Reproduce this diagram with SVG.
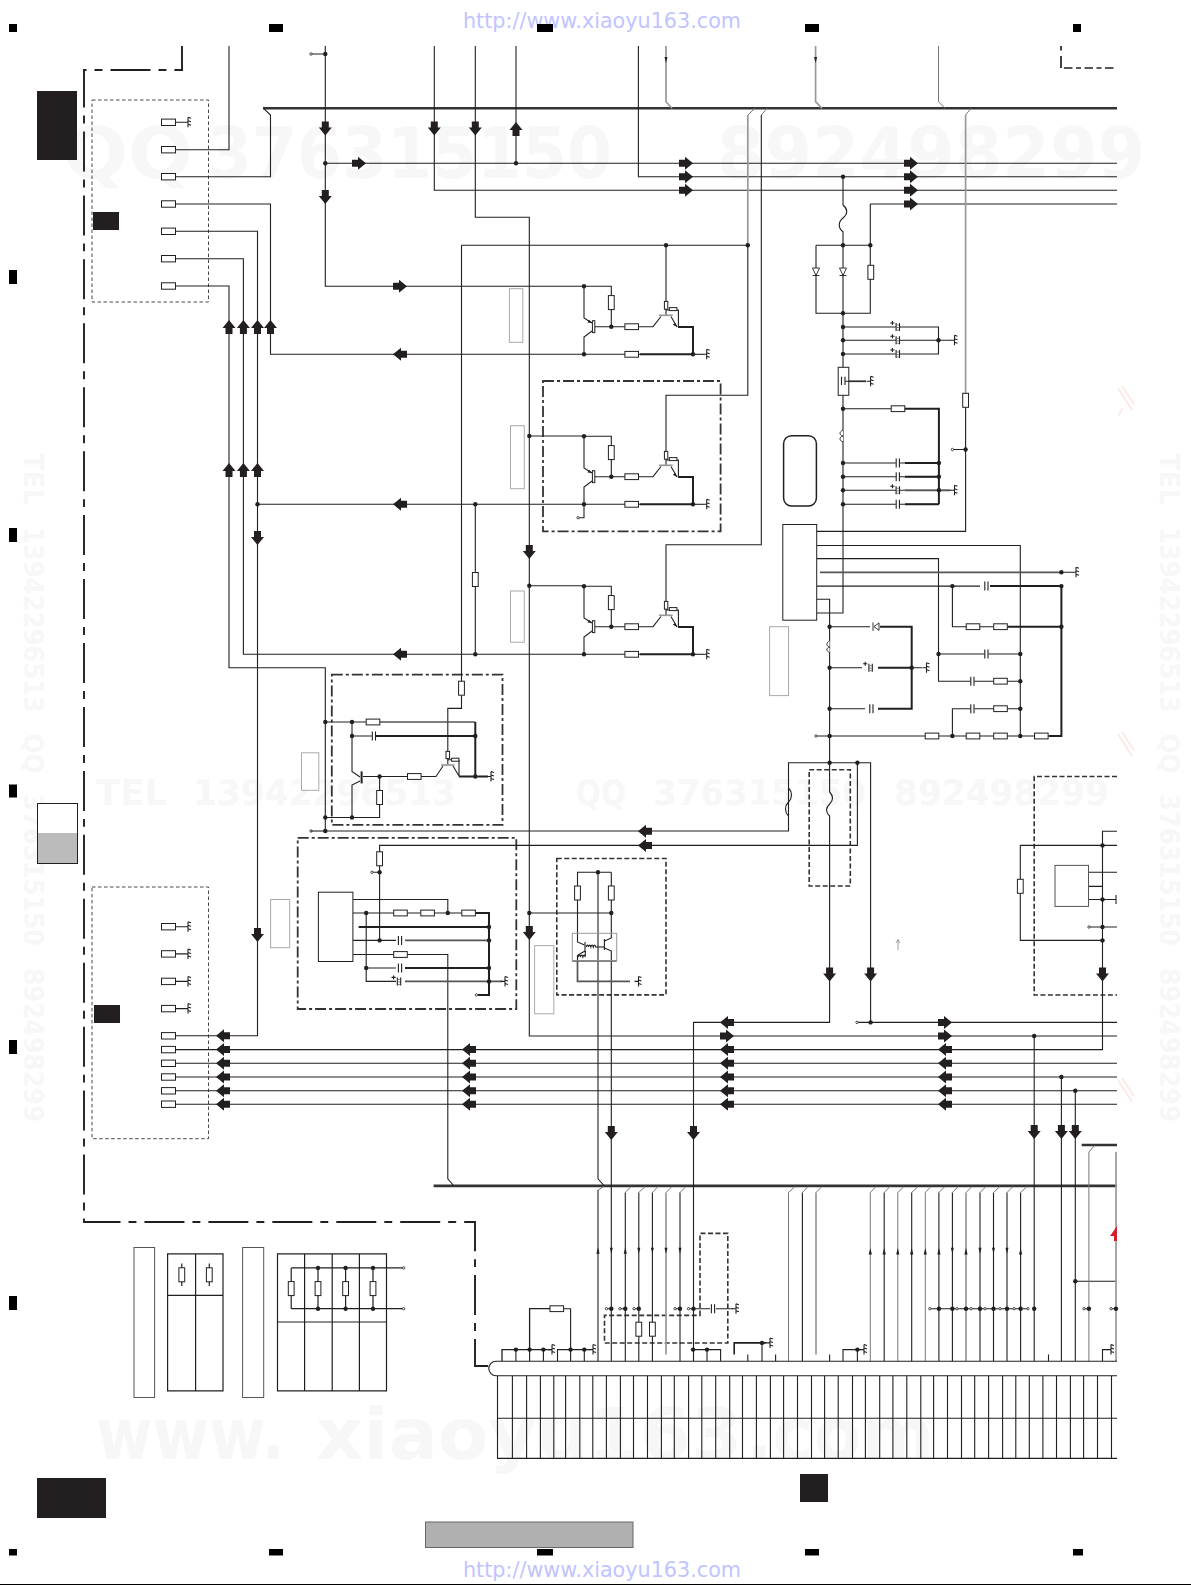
<svg xmlns="http://www.w3.org/2000/svg" xmlns:xlink="http://www.w3.org/1999/xlink" width="1191" height="1585" viewBox="0 0 1191 1585">
<style>
.w{fill:none;stroke:#231f20;stroke-width:1.1}
.t{fill:none;stroke:#231f20;stroke-width:2}
.g{fill:none;stroke:#999;stroke-width:1.7}
.m{fill:none;stroke:#555;stroke-width:1.7}
.l{fill:none;stroke:#777;stroke-width:1}
.bus{fill:none;stroke:#333;stroke-width:2.6}
.dd{fill:none;stroke:#333;stroke-width:1.8;stroke-dasharray:11 3 3 3}
.da{fill:none;stroke:#333;stroke-width:1.6;stroke-dasharray:5 2.5}
.th{fill:none;stroke:#333;stroke-width:.9;stroke-dasharray:3.5 2.5}
.out{fill:none;stroke:#231f20;stroke-width:1.9;stroke-dasharray:40 8 7.945 8;stroke-dashoffset:8.4}
.frag{fill:none;stroke:#231f20;stroke-width:1.7;stroke-dasharray:4.5 5.5 12 3 8.5 3.5 5 3.5 8.5 3.5 5 3.5 8.5 3.5 7}
.box{fill:#fff;stroke:#231f20;stroke-width:1}
.lab{fill:#fff;stroke:#aaa;stroke-width:1}
.ink{fill:#231f20}
.mk{fill:#000}
.wm{font-family:"DejaVu Sans",sans-serif;font-weight:700;fill:#f7f7f7}
.url{font-family:"DejaVu Sans",sans-serif;font-size:22px;fill:#c0c4ff}
</style>
<defs>
<path id="ad" class="ink" d="M-3.5,-7H3.5V-1H6.5L0,7L-6.5,-1H-3.5Z"/>
<use id="au" href="#ad" transform="rotate(180)"/>
<use id="ar" href="#ad" transform="rotate(-90)"/>
<use id="al" href="#ad" transform="rotate(90)"/>
<path id="sd" class="ink" d="M-1.5,-3H1.5L0,3Z"/>
<path id="su" class="ink" d="M-1.6,3H1.6L0,-3.5Z"/>
<rect id="rh" class="box" x="-6.8" y="-2.9" width="13.6" height="5.8"/>
<rect id="rv" class="box" x="-2.9" y="-7" width="5.8" height="14"/>
<rect id="term" class="box" x="-7" y="-3.2" width="14" height="6.4"/>
<circle id="d" class="ink" r="2.2"/>
<circle id="o" cx="0" cy="0" r="1.2" fill="#fff" stroke="#231f20" stroke-width=".8"/>
<path id="gnd" class="w" d="M0,-5V5M0,-5l3,1M0,-1.5l3,1M0,2l3,1M-4,0H0"/>
<g id="ch"><rect x="-2" y="-3" width="4" height="6" fill="#fff"/><path class="w" d="M-1.6,-4.5V4.5M1.6,-4.5V4.5"/></g>
<g id="cp"><rect x="-2" y="-3" width="4" height="6" fill="#fff"/><path class="w" d="M-1.7,-4V4M1.7,-4V4M-7.5,-4h4.2M-5.4,-6v4"/><path d="M-1,-2H1M-1,0.5H1M-1,3H1" stroke="#231f20" stroke-width=".6"/></g>
<path id="dv" d="M-3.5,-4H3.5L0,3.5ZM-3.5,3.5H3.5" fill="#fff" stroke="#231f20" stroke-width=".9"/>
<g id="amp">
<path class="w" d="M584,286.3H611.3V326.7M584,286.3V318L592,323M592,331L584,337V354.3H625M595,326.7H625M638.5,326.7H653L661,316.5M671,316.5L677,327M666,309V315M666,310H670M677,310H678.4V327M638.5,354.3H640"/>
<path class="ink" d="M592,323L587.5,322.5L589,319.8ZM677,327L672.8,324.8L675.2,323Z"/>
<rect class="box" x="592.4" y="320.7" width="2.4" height="11.9"/>
<path class="g" d="M659,315.3H672.7" stroke-width="2.4"/>
<path class="t" d="M678,327H693V354.3M640,354.3H693"/>
<path class="w" d="M693,354.3H703"/>
<rect class="box" x="664.4" y="301.4" width="3.4" height="7.8"/>
<rect class="box" x="669.3" y="307.6" width="7.6" height="3"/>
<use href="#rv" x="611.3" y="302.6"/><use href="#rh" x="631.7" y="326.7"/><use href="#rh" x="631.7" y="354.3"/>
<use href="#d" x="611.3" y="326.7"/><use href="#d" x="584" y="286.3"/><use href="#d" x="584" y="354.3"/><use href="#d" x="693" y="354.3"/>
<use href="#gnd" x="706.7" y="354.3"/>
</g>
</defs>
<rect width="1191" height="1585" fill="#fff"/>

<g id="watermarks">
<text class="wm" x="63" y="178" font-size="72" textLength="130" lengthAdjust="spacingAndGlyphs">QQ</text>
<text class="wm" x="207" y="178" font-size="72" textLength="405" lengthAdjust="spacingAndGlyphs">376315150</text>
<text class="wm" x="717" y="178" font-size="72" textLength="428" lengthAdjust="spacingAndGlyphs">892498299</text>
<text class="wm" x="96" y="804.5" font-size="36" textLength="71" lengthAdjust="spacingAndGlyphs">TEL</text>
<text class="wm" x="193" y="804.5" font-size="36" textLength="263" lengthAdjust="spacingAndGlyphs">13942296513</text>
<text class="wm" x="576" y="804.5" font-size="36" textLength="50" lengthAdjust="spacingAndGlyphs">QQ</text>
<text class="wm" x="653" y="804.5" font-size="36" textLength="213" lengthAdjust="spacingAndGlyphs">376315150</text>
<text class="wm" x="894" y="804.5" font-size="36" textLength="215" lengthAdjust="spacingAndGlyphs">892498299</text>
<text class="wm" x="96" y="1459" font-size="72" textLength="189" lengthAdjust="spacingAndGlyphs">www.</text>
<text class="wm" x="316" y="1459" font-size="72" textLength="426" lengthAdjust="spacingAndGlyphs">xiaoyu163</text>
<text class="wm" x="746" y="1459" font-size="72" textLength="188" lengthAdjust="spacingAndGlyphs">.com</text>
<g id="wm-left">
<text class="wm" transform="translate(24,453) rotate(90)" font-size="26" textLength="52" lengthAdjust="spacingAndGlyphs">TEL</text>
<text class="wm" transform="translate(24,527) rotate(90)" font-size="26" textLength="186" lengthAdjust="spacingAndGlyphs">13942296513</text>
<text class="wm" transform="translate(24,733.5) rotate(90)" font-size="26" textLength="40" lengthAdjust="spacingAndGlyphs">QQ</text>
<text class="wm" transform="translate(24,794) rotate(90)" font-size="26" textLength="152" lengthAdjust="spacingAndGlyphs">376315150</text>
<text class="wm" transform="translate(24,968) rotate(90)" font-size="26" textLength="154" lengthAdjust="spacingAndGlyphs">892498299</text>
</g>
<g id="wm-right">
<text class="wm" transform="translate(1160,453) rotate(90)" font-size="26" textLength="52" lengthAdjust="spacingAndGlyphs">TEL</text>
<text class="wm" transform="translate(1160,527) rotate(90)" font-size="26" textLength="186" lengthAdjust="spacingAndGlyphs">13942296513</text>
<text class="wm" transform="translate(1160,733.5) rotate(90)" font-size="26" textLength="40" lengthAdjust="spacingAndGlyphs">QQ</text>
<text class="wm" transform="translate(1160,794) rotate(90)" font-size="26" textLength="152" lengthAdjust="spacingAndGlyphs">376315150</text>
<text class="wm" transform="translate(1160,968) rotate(90)" font-size="26" textLength="154" lengthAdjust="spacingAndGlyphs">892498299</text>
</g>
<path d="M1118,388l14,22M1122,386l12,18M1118,416l5,-8M1118,734l14,22M1122,732l12,18M1118,1080l14,22M1122,1078l12,18" fill="none" stroke="#fde6e2" stroke-width="1.5"/>
<text class="url" x="463" y="28" textLength="278" lengthAdjust="spacingAndGlyphs">http://www.xiaoyu163.com</text>
<text class="url" x="463" y="1577" textLength="278" lengthAdjust="spacingAndGlyphs">http://www.xiaoyu163.com</text>
</g>

<g id="page-marks">
<rect class="mk" x="9" y="24" width="8" height="8"/><rect class="mk" x="269" y="24" width="14" height="8"/><rect class="mk" x="537" y="24" width="16" height="8"/><rect class="mk" x="805" y="24" width="14" height="8"/><rect class="mk" x="1073" y="24" width="8" height="8"/>
<rect class="mk" x="9" y="270" width="8" height="14"/><rect class="mk" x="9" y="528" width="8" height="14"/><rect class="mk" x="9" y="784.5" width="8" height="13"/><rect class="mk" x="9" y="1040" width="8" height="14"/><rect class="mk" x="9" y="1296" width="8" height="14"/>
<rect class="mk" x="9" y="1549" width="8" height="6.5"/><rect class="mk" x="269" y="1549" width="14" height="6.5"/><rect class="mk" x="537" y="1549" width="16" height="6.5"/><rect class="mk" x="805" y="1549" width="14" height="6.5"/><rect class="mk" x="1073" y="1549" width="10" height="6.5"/>
<rect class="mk" x="0" y="1584" width="1191" height="1"/>
<rect class="ink" x="37" y="91" width="40" height="69"/>
<rect class="ink" x="93" y="212" width="26" height="18"/>
<rect class="ink" x="94" y="1005" width="26" height="18"/>
<rect class="ink" x="37" y="1478" width="69" height="40"/>
<rect class="ink" x="800" y="1474" width="28" height="28"/>
<rect x="37.5" y="803.5" width="40" height="60" fill="#fff" stroke="#231f20" stroke-width="1"/>
<rect x="38" y="833" width="39" height="30" fill="#bbb"/>
<rect x="425.5" y="1522" width="207.5" height="25.5" fill="#b0b0b0" stroke="#666" stroke-width="1"/>
</g>

<g id="label-boxes">
<rect class="lab" x="509.4" y="288.7" width="13.4" height="53.6"/>
<rect class="lab" x="510.5" y="425.7" width="13.8" height="63"/>
<rect class="lab" x="510.5" y="591" width="13.8" height="51.2"/>
<rect class="lab" x="301.5" y="752.8" width="17.3" height="37.5"/>
<rect class="lab" x="270.6" y="899.5" width="19.1" height="48.2"/>
<rect class="lab" x="534.6" y="945.6" width="19.2" height="68.2"/>
<rect class="lab" x="769.6" y="626.7" width="18.9" height="68.9"/>
</g>

<g id="frames">
<path class="out" d="M182,46V70H84V1222H475V1366H489"/>
<path class="frag" d="M1061,46V68H1117"/>
<rect class="th" x="92" y="100" width="116.5" height="202"/>
<rect class="th" x="92" y="887" width="116.5" height="251.7"/>
<rect class="dd" x="543" y="381" width="177.6" height="150.4"/>
<rect class="dd" x="331.8" y="674.6" width="170.7" height="150.2"/>
<rect class="dd" x="297.7" y="837.8" width="218.6" height="171.2"/>
<rect class="da" x="556.8" y="858.5" width="109.2" height="136.4"/>
<rect class="da" x="809.2" y="769.7" width="41.1" height="116.3"/>
<path class="da" d="M1117,776.5H1034.2V995H1117"/>
<path class="da" d="M700,1315.4V1233.4H727.8V1343H604.5V1315.4Z"/>
</g>

<g id="connectors">
<path class="bus" d="M263,108.3H1117M433.6,1185.9H1117M1081.7,1145H1117"/>
<path class="w" d="M263.5,108.3L270.5,115V176.7H175.5M175.5,149.7H229V46M175.5,204H270.5V354.3H584M175.5,231.3H257.5V1035.8H175.5M175.5,258.7H243.4V654.3H584M175.5,286H229V667.7H325.3V831H788.5V816M175.5,122.3H184"/>
<path class="w" d="M325.3,46V286.3H584M311,54H325.3M325.3,163.3H1117M434.3,46V190.3H1117M475.3,46V217.3H529.3V1036H1117M516,46V163.3M638.4,46V176.7H1117M870.3,204H1117"/>
<path class="w" d="M461.5,245.3V681M461.5,695.5V708.4H447.8V751.4M461.5,245.3H747.8M747.8,245.3V395.3H666V451.7M666,245.3V301.7M761.3,115V544.8H666V601.7"/>
<path class="l" d="M747.8,115L755,108.3M761.3,115L767,108.3"/>
<path class="g" d="M747.8,115V245.3" stroke-width="1.2"/>
<path class="w" d="M475.3,504.3V654.3M257.5,504.3H584M529.3,436H584M529.3,585.8H584M584,504.3V517.7H579"/>
<path class="g" d="M666,46V101.7L672,108.3M815.6,46V101.7L822,108.3"/>
<path class="l" d="M938.5,46V101.7L945,108.3"/>
<path class="g" d="M965.6,115V393.3"/><path class="l" d="M965.6,115L971,108.3"/>
<path class="w" d="M965.6,407.3V531.4H816.7M952.4,449.5H965.6"/>

<path class="w" d="M843,176.7V205C848,209 848,214 843,218C838,222 838,228 843,231.7V613H816.7M816,245.3H870.3V204M816,245.3V313.3H870.3V245.3M843,327H938.5V354H843M843,340.3H951M843,408.7H891.4M843,463H938.9M843,476.7H938.9M843,490.3H951M843,504.3H938.9"/>
<path class="t" d="M904.6,408.7H938.9V504.3M905,463H938.9M905,476.7H938.9M905,504.3H938.9"/>
<path class="m" d="M905,490.3H950"/>
<path class="m" d="M843,381.3H866"/>

<path class="w" d="M816.7,545.5H1020.3V736M816.7,558.6H938.5V681.2H993.5M938.5,654H1020.3M816.7,586.1H980M952.4,586.1V626.7H966.4M816.7,599.2H829.6V792C833.5,796 833.5,800 829.6,804C825.5,808 825.5,812 829.6,816V1022.4H693.5V1361.3M829.6,626.7H870M829.6,667.7H862M829.6,708.7H865M816,736H925.3M938.5,736H966.4M979.6,736H993.5M1007.5,736H1034.2M952.4,736V708.7H993.5M1007.5,681.2H1020.3M1007.5,708.7H1020.3M979.6,626.7H993.5"/>
<path class="w" d="M788.5,816V788C792.5,792 792.5,798 788.5,802C784.5,806 784.5,812 788.5,816M788.5,788V762.8H870.6V1022.4M857.4,762.8V845.4H379.6V940.4"/>
<path class="m" d="M820,572.3H1061"/>
<path class="t" d="M990,586.1H1061.4V736H1048.5M1007.5,626.7H1061.4M880,626.7H911.7V708.7H878M878,667.7H911.7"/>
<path class="w" d="M1061.4,572.3H1072M911.7,667.7H922"/>

<path class="w" d="M1117,831.3H1102.5V1049.6H175.5M1117,845.4H1020.3V879M1020.3,893.6V940.4H1102.5M1088.5,872.3H1117M1088.5,886.4H1102.5M1088.5,899.5H1116M1089,927H1117M1116,895V904"/>
<path class="w" d="M857,1022.4H1117M175.5,1063.3H1117M175.5,1077H1117M175.5,1090.8H1117M175.5,1104.2H1117"/>
<path class="w" d="M1034.2,1036V1361.3M1061.4,1077V1361.3M1075.3,1090.8V1361.3M1075.3,1281.3H1117"/>
<path class="l" d="M1088.9,1361.3V1152L1094.5,1145.5"/><path class="g" d="M1116,1152V1361.3"/>

<!-- box B -->
<path class="w" d="M325.3,722H366.2M352,722V771.4L360,777M360,781L352,785V817.5M325.3,817.5H379.6V804.8M379.6,776.5V790.3M363,776.5H407.6M421,776.5H436L443,766M453,766L459,776M447.8,758.6V764M447.8,759.7H451.6M459,759.7V776.5M352,736H372"/>
<path class="m" d="M379.6,722H475.3"/><path class="t" d="M376,736H475.3M475.3,722V776.5M459,776.5H488"/>
<path class="g" d="M441,765H454.6" stroke-width="2.4"/>
<path class="t" d="M361.6,771.4V783.4" stroke-width="1.6"/>
<rect class="box" x="446" y="751.4" width="3.6" height="7.2"/><rect class="box" x="451.6" y="758.2" width="7.3" height="3"/>
<!-- box C -->
<path class="w" d="M352.9,899.5H447.8V913M352.9,913H393.4M407.6,913H420.6M434.7,913H461.5M352.9,940.4H396M352.9,954.5H393.4M407.6,954.5H447.8V1178.8L453.5,1185.5M366.2,913V981.4H396M366.2,968H396M379.6,872.3H372"/>
<path class="t" d="M475.7,913H489V994.9H478M358.6,927H489M405,968H489"/>
<path class="m" d="M405,940.4H489M405,981.4H502"/>
<!-- box D -->
<path class="w" d="M577.5,886.4V872.3H611.3M611.3,872.3V938L604.6,941M604.6,948L611.3,951V1361.3M529.3,913H611.3M598,872.3V1178.8L604,1185.5M577.5,899.5V942L584.5,945M585,951L578,955"/>
<path class="w" d="M598,947H604"/>
<path class="w" d="M598,1190V1361.3"/>
<path class="m" d="M577.5,960.8V981.4H630M572,960.8H616.7"/>
<rect x="572.3" y="933.3" width="44.4" height="27.4" fill="none" stroke="#999" stroke-width="1"/>
<path class="w" d="M585,942V952M604.4,939V950" stroke-width="1.6"/>
<path class="w" d="M586,947c1,-2.5 2,-2.5 2.5,0c.7,-2.5 1.7,-2.5 2.4,0c.7,-2.5 1.7,-2.5 2.4,0c.7,-2.5 1.7,-2.5 2.4,0H598M578,957c1,-2.5 2,-2.5 2.5,0c.7,-2.5 1.7,-2.5 2.4,0c.7,-2.5 1.7,-2.5 2.4,0V951M577.5,955V960" stroke-width=".8"/>
<!-- right lower -->
<path class="w" d="M625.3,1192.5V1361.3M638.8,1192.5V1361.3M652.4,1192.5V1361.3M680,1192.5V1361.3M802.4,1192.5V1361.3M884.2,1192.5V1361.3M911.7,1192.5V1361.3M938.9,1192.5V1361.3M952.4,1192.5V1361.3M980,1192.5V1361.3M993.5,1192.5V1361.3M1007,1192.5V1361.3M1020.6,1192.5V1361.3"/>
<path class="l" d="M625.3,1192.5L631,1186.5M638.8,1192.5L645,1186.5M652.4,1192.5L658,1186.5M666,1192.5L672,1186.5M680,1192.5L686,1186.5M788.5,1192.5L795,1186.5M802.4,1192.5L808,1186.5M816,1192.5L822,1186.5M870.3,1192.5L876,1186.5M884.2,1192.5L890,1186.5M897.8,1192.5L904,1186.5M911.7,1192.5L918,1186.5M925.3,1192.5L931,1186.5M938.9,1192.5L945,1186.5M952.4,1192.5L958,1186.5M966,1192.5L972,1186.5M980,1192.5L986,1186.5M993.5,1192.5L1000,1186.5M1007,1192.5L1013,1186.5M1020.6,1192.5L1027,1186.5M598,1190L604,1186.5"/>
<path class="l" d="M788.5,1192.5V1361.3M870.3,1192.5V1361.3M897.8,1192.5V1361.3M925.3,1192.5V1361.3"/>
<path class="g" d="M666,1192.5V1354.6M816,1192.5V1354.6M966,1192.5V1361.3" stroke-width="1.8"/>
<!-- terminal row -->
<path class="w" d="M606.4,1308.7H611.3M620,1308.7H625.3M634,1308.7H638.8M675,1308.7H680M688.5,1308.7H693.5M693.5,1308.7H710M716,1308.7H733M929.8,1308.7H1028M1084,1308.7H1088.9M1111,1308.7H1116"/>
<path class="t" d="M502,1361.3V1349.6H551M529.6,1349.6V1308.7H550" style="stroke-width:1.3"/>
<path class="w" d="M563.7,1308.7H570.6V1361.3M515.9,1349.6V1361.3M529.6,1349.6V1361.3M543.4,1349.6V1361.3M557.5,1361.3V1349.6H590M584.3,1349.6V1361.3M693.1,1349.6H720.6V1361.3M707,1349.6V1361.3M762,1342.9V1361.3M747.8,1354.6V1361.3M775.6,1354.6V1361.3M829.6,1354.6V1361.3M1048.5,1354.6V1361.3M843,1361.3V1349.6H861M857.4,1349.6V1361.3M1102.5,1361.3V1349.6H1108"/>
<path class="t" d="M734.2,1354.6V1342.9H766" style="stroke-width:1.6"/>
</g>

<g id="symbols">
<g id="terminals">
<use href="#term" x="168.5" y="122.3"/><use href="#term" x="168.5" y="149.7"/><use href="#term" x="168.5" y="176.7"/><use href="#term" x="168.5" y="204"/><use href="#term" x="168.5" y="231.3"/><use href="#term" x="168.5" y="258.7"/><use href="#term" x="168.5" y="286"/>
<use href="#term" x="168.5" y="926.7"/><use href="#term" x="168.5" y="953.9"/><use href="#term" x="168.5" y="981.4"/><use href="#term" x="168.5" y="1008.6"/><use href="#term" x="168.5" y="1035.8"/><use href="#term" x="168.5" y="1049.6"/><use href="#term" x="168.5" y="1063.3"/><use href="#term" x="168.5" y="1077"/><use href="#term" x="168.5" y="1090.8"/><use href="#term" x="168.5" y="1104.2"/>
<path class="w" d="M175.5,926.7H184M175.5,953.9H184M175.5,981.4H184M175.5,1008.6H184"/>
<use href="#gnd" x="188" y="122.3"/><use href="#gnd" x="188" y="926.7"/><use href="#gnd" x="188" y="953.9"/><use href="#gnd" x="188" y="981.4"/><use href="#gnd" x="188" y="1008.6"/>
</g>
<g id="stage-1"><use href="#amp"/></g>
<g id="stage-2"><use href="#amp" y="150"/><use href="#o" x="578" y="517.7"/></g>
<g id="stage-3"><use href="#amp" y="300"/></g>
<g id="junctions-top">
<use href="#d" x="325.3" y="54"/><use href="#o" x="311" y="54"/><use href="#d" x="325.3" y="163.3"/><use href="#d" x="516" y="163.3"/><use href="#d" x="666" y="245.3"/><use href="#d" x="747.8" y="245.3"/><use href="#d" x="529.3" y="436"/><use href="#d" x="529.3" y="585.8"/><use href="#d" x="257.5" y="504.3"/><use href="#d" x="475.3" y="504.3"/><use href="#d" x="475.3" y="654.3"/><use href="#rv" x="475.3" y="579.5"/><use href="#rv" x="461.5" y="688.2"/>
<use href="#d" x="529.3" y="913"/><use href="#d" x="843" y="176.7"/>
</g>
<g id="power">
<use href="#d" x="843" y="245.3"/><use href="#d" x="870.3" y="245.3"/><use href="#d" x="843" y="313.3"/><use href="#dv" x="816" y="272"/><use href="#dv" x="843" y="272"/><use href="#rv" x="870.8" y="272.3"/>
<use href="#d" x="843" y="327"/><use href="#d" x="843" y="340.3"/><use href="#d" x="843" y="354"/><use href="#d" x="938.5" y="340.3"/>
<use href="#cp" x="897.8" y="327"/><use href="#cp" x="897.8" y="340.3"/><use href="#cp" x="897.8" y="354"/><use href="#gnd" x="954.5" y="340.3"/>
<rect class="box" x="838.2" y="367.3" width="10.6" height="28"/><path class="w" d="M841.5,376.7V385M845,376.7V385M845,381.3H866"/><use href="#gnd" x="870.6" y="381.3"/>
<use href="#d" x="843" y="408.7"/><use href="#rh" x="898" y="408.7"/>
<path d="M843,430C839,432 839,435 843,436C839,437 839,441 843,441.7" fill="#fff" stroke="#231f20" stroke-width=".9"/>
<use href="#d" x="843" y="463"/><use href="#d" x="843" y="476.7"/><use href="#d" x="843" y="490.3"/><use href="#d" x="843" y="504.3"/>
<use href="#ch" x="897.8" y="463"/><use href="#ch" x="897.8" y="476.7"/><use href="#cp" x="897.8" y="490.3"/><use href="#ch" x="897.8" y="504.3"/>
<use href="#d" x="938.9" y="463"/><use href="#d" x="938.9" y="476.7"/><use href="#d" x="938.9" y="490.3"/><use href="#gnd" x="954.5" y="490.3"/>
<rect x="783.6" y="435.7" width="32.8" height="70.3" rx="8" fill="#fff" stroke="#231f20" stroke-width="1.5"/>
<use href="#rv" x="965.6" y="400.3"/><use href="#d" x="965.6" y="449.5"/><use href="#o" x="952.4" y="449.5"/>
<rect class="box" x="782.8" y="524.5" width="33.9" height="95.7"/>
<use href="#d" x="1061.4" y="572.3"/><use href="#gnd" x="1076" y="572.3"/><use href="#d" x="952.4" y="586.1"/><use href="#ch" x="986.4" y="586.1"/><use href="#d" x="1061.4" y="586.1"/>
<use href="#rh" x="973" y="626.7"/><use href="#rh" x="1000.5" y="626.7"/><use href="#d" x="1061.4" y="626.7"/>
<use href="#d" x="938.5" y="654"/><use href="#ch" x="986.4" y="654"/><use href="#d" x="1020.3" y="654"/>
<use href="#ch" x="972.4" y="681.2"/><use href="#rh" x="1000.5" y="681.2"/><use href="#d" x="1020.3" y="681.2"/>
<use href="#ch" x="972.4" y="708.7"/><use href="#rh" x="1000.5" y="708.7"/><use href="#d" x="1020.3" y="708.7"/>
<use href="#rh" x="932" y="736"/><use href="#d" x="952.4" y="736"/><use href="#rh" x="973" y="736"/><use href="#rh" x="1000.5" y="736"/><use href="#d" x="1020.3" y="736"/><use href="#rh" x="1041.3" y="736"/>
<use href="#d" x="829.6" y="626.7"/><use href="#d" x="829.6" y="667.7"/><use href="#d" x="829.6" y="708.7"/><use href="#d" x="829.6" y="736"/><use href="#o" x="816" y="736"/><use href="#d" x="829.6" y="762.8"/><use href="#d" x="857.4" y="762.8"/>
<path d="M829.6,640.5C826,643 826,646 829.6,647C826,648 826,651 829.6,652.6" fill="#fff" stroke="#231f20" stroke-width=".9"/>
<path d="M873,623V630.5L878,626.7L873,623ZM879,622.5V631" fill="#fff" stroke="#231f20" stroke-width=".9" transform="rotate(180 876 626.7)"/>
<use href="#cp" x="870.6" y="667.7"/><use href="#ch" x="871.4" y="708.7"/><use href="#d" x="911.7" y="667.7"/><use href="#gnd" x="926.5" y="667.7"/>
</g>
<g id="stage-b">
<use href="#d" x="325.3" y="722"/><use href="#d" x="352" y="722"/><use href="#rh" x="373" y="722"/><use href="#d" x="352" y="736"/><use href="#ch" x="373.9" y="736"/><use href="#d" x="475.3" y="736"/><use href="#d" x="379.6" y="776.5"/><use href="#rh" x="414.3" y="776.5"/><use href="#rv" x="379.6" y="797.5"/><use href="#d" x="325.3" y="817.5"/><use href="#d" x="352" y="817.5"/><use href="#d" x="325.3" y="831"/><use href="#o" x="311" y="831"/><path class="w" d="M311,831H325.3"/><use href="#d" x="475.3" y="776.5"/><use href="#gnd" x="491" y="776.5"/>
</g>
<g id="stage-c">
<rect class="box" x="318.4" y="892.2" width="34.5" height="69.3"/>
<use href="#rv" x="379.6" y="858.8"/><use href="#d" x="379.6" y="872.3"/><use href="#o" x="372" y="872.3"/><use href="#d" x="366.2" y="913"/><use href="#rh" x="400.5" y="913"/><use href="#rh" x="427.6" y="913"/><use href="#d" x="447.8" y="913"/><use href="#rh" x="468.6" y="913"/><use href="#d" x="489" y="927"/><use href="#d" x="379.6" y="940.4"/><use href="#ch" x="400" y="940.4"/><use href="#d" x="489" y="940.4"/><use href="#rh" x="400.5" y="954.5"/><use href="#d" x="366.2" y="968"/><use href="#ch" x="400" y="968"/><use href="#d" x="489" y="968"/><use href="#cp" x="399" y="981.4"/><use href="#d" x="489" y="981.4"/><use href="#gnd" x="505" y="981.4"/><use href="#o" x="476.4" y="994.9"/>
</g>
<g id="stage-d">
<use href="#rv" x="577.5" y="893"/><use href="#rv" x="611.3" y="893"/><use href="#d" x="598" y="872.3"/><use href="#d" x="611.3" y="913"/><use href="#gnd" x="638.5" y="981.4"/>
</g>
<g id="stage-f">
<rect x="1055" y="865.4" width="33.5" height="41" fill="#fff" stroke="#555" stroke-width="1"/>
<use href="#rv" x="1020.3" y="886.3"/><use href="#d" x="1102.5" y="845.4"/><use href="#d" x="1102.5" y="899.5"/><use href="#d" x="1102.5" y="927"/><use href="#d" x="1102.5" y="940.4"/><use href="#o" x="1089" y="927"/>
<path d="M898,950V940M896,943L898,939.5L900,943" fill="none" stroke="#777" stroke-width=".7"/>
<use href="#d" x="870.6" y="1022.4"/><use href="#o" x="857" y="1022.4"/><use href="#d" x="1034.2" y="1036"/><use href="#d" x="1061.4" y="1077"/><use href="#d" x="1075.3" y="1090.8"/><use href="#d" x="1075.3" y="1281.3"/>
</g>
<g id="arrows">
<use href="#ad" x="325.3" y="128.5"/><use href="#ad" x="325.3" y="197"/><use href="#ad" x="434.3" y="128.5"/><use href="#ad" x="475.3" y="128.5"/><use href="#au" x="516" y="129"/>
<use href="#ar" x="359" y="163.3"/><use href="#ar" x="400" y="286.3"/><use href="#ar" x="686" y="163.3"/><use href="#ar" x="686" y="176.7"/><use href="#ar" x="686" y="190.3"/><use href="#ar" x="911" y="163.3"/><use href="#ar" x="911" y="176.7"/><use href="#ar" x="911" y="190.3"/><use href="#ar" x="911" y="204"/>
<use href="#au" x="229" y="327"/><use href="#au" x="243.4" y="327"/><use href="#au" x="257.5" y="327"/><use href="#au" x="270.5" y="327"/><use href="#au" x="229" y="470"/><use href="#au" x="243.4" y="470"/><use href="#au" x="257.5" y="470"/>
<use href="#ad" x="257.5" y="538"/><use href="#ad" x="257.5" y="935"/><use href="#ad" x="529.3" y="552"/><use href="#ad" x="529.3" y="933"/>
<use href="#al" x="400" y="354.3"/><use href="#al" x="400" y="504.3"/><use href="#al" x="400" y="654.3"/><use href="#al" x="645" y="831.3"/><use href="#al" x="645" y="845.4"/>
<use href="#ad" x="829.6" y="974.5"/><use href="#ad" x="870.6" y="974.5"/><use href="#ad" x="1102.5" y="974.5"/>
<use href="#ad" x="611.3" y="1133"/><use href="#ad" x="693.5" y="1133"/><use href="#ad" x="1034.2" y="1132"/><use href="#ad" x="1061.4" y="1132"/><use href="#ad" x="1075.3" y="1132"/>
<use href="#al" x="727" y="1022.4"/><use href="#ar" x="945" y="1022.4"/><use href="#al" x="223" y="1035.8"/><use href="#ar" x="727" y="1036"/><use href="#ar" x="945" y="1036"/>
<use href="#al" x="223" y="1049.6"/><use href="#al" x="469" y="1049.6"/><use href="#al" x="727" y="1049.6"/><use href="#al" x="945" y="1049.6"/>
<use href="#al" x="223" y="1063.3"/><use href="#al" x="469" y="1063.3"/><use href="#al" x="727" y="1063.3"/><use href="#al" x="945" y="1063.3"/>
<use href="#al" x="223" y="1077"/><use href="#al" x="469" y="1077"/><use href="#al" x="727" y="1077"/><use href="#al" x="945" y="1077"/>
<use href="#al" x="223" y="1090.8"/><use href="#al" x="469" y="1090.8"/><use href="#al" x="727" y="1090.8"/><use href="#al" x="945" y="1090.8"/>
<use href="#al" x="223" y="1104.2"/><use href="#al" x="469" y="1104.2"/><use href="#al" x="727" y="1104.2"/><use href="#al" x="945" y="1104.2"/>
<use href="#sd" x="666" y="60"/><use href="#sd" x="815.6" y="60"/>
<use href="#su" x="598" y="1250.8"/><use href="#sd" x="611.3" y="1250.8"/><use href="#su" x="625.3" y="1250.8"/><use href="#sd" x="638.8" y="1250.8"/><use href="#sd" x="652.4" y="1250.8"/><use href="#sd" x="666" y="1250.8"/><use href="#sd" x="680" y="1250.8"/>
<use href="#su" x="870.3" y="1251.5"/><use href="#su" x="884.2" y="1251.5"/><use href="#su" x="897.8" y="1251.5"/><use href="#su" x="911.7" y="1251.5"/><use href="#su" x="925.3" y="1251.5"/><use href="#su" x="938.9" y="1251.5"/><use href="#sd" x="952.4" y="1250.8"/><use href="#su" x="966" y="1251.5"/><use href="#sd" x="980" y="1250.8"/><use href="#sd" x="993.5" y="1250.8"/><use href="#sd" x="1007" y="1250.8"/><use href="#su" x="1020.6" y="1251.5"/>
<path d="M1117,1226L1110,1236H1114V1241H1117Z" fill="#d4202c"/>
</g>
<g id="terminal-row">
<use href="#o" x="606.4" y="1308.7"/><use href="#d" x="611.3" y="1308.7"/><use href="#o" x="620" y="1308.7"/><use href="#d" x="625.3" y="1308.7"/><use href="#o" x="634" y="1308.7"/><use href="#d" x="638.8" y="1308.7"/><use href="#o" x="675" y="1308.7"/><use href="#d" x="680" y="1308.7"/><use href="#o" x="688.5" y="1308.7"/><use href="#d" x="693.5" y="1308.7"/>
<use href="#ch" x="713" y="1308.7"/><use href="#gnd" x="736" y="1308.7"/>
<use href="#o" x="929.8" y="1308.7"/><use href="#d" x="938.9" y="1308.7"/><use href="#d" x="952.4" y="1308.7"/><use href="#o" x="957" y="1308.7"/><use href="#d" x="966" y="1308.7"/><use href="#o" x="971" y="1308.7"/><use href="#d" x="980" y="1308.7"/><use href="#o" x="985" y="1308.7"/><use href="#d" x="993.5" y="1308.7"/><use href="#o" x="1000" y="1308.7"/><use href="#d" x="1007" y="1308.7"/><use href="#o" x="1014" y="1308.7"/><use href="#d" x="1020.6" y="1308.7"/><use href="#o" x="1028" y="1308.7"/><use href="#d" x="1034.2" y="1308.7"/>
<use href="#o" x="1084" y="1308.7"/><use href="#d" x="1088.9" y="1308.7"/><use href="#o" x="1111" y="1308.7"/><use href="#d" x="1116" y="1308.7"/>
<use href="#rv" x="638.8" y="1329.2"/><use href="#rv" x="652.4" y="1329.2"/>
<use href="#rh" x="556.8" y="1308.7"/>
<use href="#d" x="515.9" y="1349.6"/><use href="#d" x="529.6" y="1349.6"/><use href="#d" x="543.4" y="1349.6"/><use href="#gnd" x="552" y="1349.6"/><use href="#d" x="570.6" y="1349.6"/><use href="#d" x="584.3" y="1349.6"/><use href="#gnd" x="593" y="1349.6"/>
<use href="#d" x="693.1" y="1349.6"/><use href="#d" x="707" y="1349.6"/><use href="#d" x="762" y="1342.9"/><use href="#gnd" x="770" y="1342.9"/><use href="#d" x="857.4" y="1349.6"/><use href="#gnd" x="864" y="1349.6"/><use href="#gnd" x="1111" y="1349.6"/>
</g>
<g id="connector-strip">
<path d="M1117,1361.3H496A7.2,7.2 0 0 0 496,1375.7H1117" fill="#fff" stroke="#231f20" stroke-width="1.1"/>
<path class="w" d="M497.5,1375.7V1458.4H1117M497.5,1418.2H1117M512.4,1375.7V1458.4M526.6,1375.7V1458.4M540.4,1375.7V1458.4M553.8,1375.7V1458.4M565.6,1375.7V1458.4M579.8,1375.7V1458.4M592.8,1375.7V1458.4M606.4,1375.7V1458.4M620.4,1375.7V1458.4M633.5,1375.7V1458.4M647.5,1375.7V1458.4M661.4,1375.7V1458.4M674.3,1375.7V1458.4M688.6,1375.7V1458.4M701.8,1375.7V1458.4M715.7,1375.7V1458.4M729.7,1375.7V1458.4M742.5,1375.7V1458.4M756.4,1375.7V1458.4M770.4,1375.7V1458.4M783.6,1375.7V1458.4M797.5,1375.7V1458.4M811.5,1375.7V1458.4M824.6,1375.7V1458.4M838.2,1375.7V1458.4M852.5,1375.7V1458.4M865.4,1375.7V1458.4M879.7,1375.7V1458.4M892.9,1375.7V1458.4M906.8,1375.7V1458.4M920.8,1375.7V1458.4M933.6,1375.7V1458.4M947.5,1375.7V1458.4M961.5,1375.7V1458.4M974.7,1375.7V1458.4M988.6,1375.7V1458.4M1002.6,1375.7V1458.4M1015.8,1375.7V1458.4M1029.3,1375.7V1458.4M1042.9,1375.7V1458.4M1056.5,1375.7V1458.4M1070.4,1375.7V1458.4M1083.6,1375.7V1458.4M1097.5,1375.7V1458.4M1111.5,1375.7V1458.4"/>
</g>
<g id="tables">
<rect class="box" x="134" y="1247.5" width="20.6" height="150" style="stroke:#555"/>
<rect class="box" x="242.6" y="1247.5" width="21.1" height="150" style="stroke:#555"/>
<path class="w" d="M167.6,1253.8H223V1390.8H167.6ZM195.6,1253.8V1390.8M167.6,1295.4H223M181.8,1263.5V1286M209.3,1263.5V1286" style="stroke-width:1.2"/>
<use href="#rv" x="181.8" y="1274.8"/><use href="#rv" x="209.3" y="1274.8"/>
<path class="w" d="M277.5,1253.8H386.5V1390.8H277.5ZM304.6,1253.8V1390.8M332.2,1253.8V1390.8M359.4,1253.8V1390.8M277.5,1322H386.5M291.2,1267.9H403M291.2,1308.7H403M291.2,1267.9V1308.7M318,1267.9V1308.7M345.6,1267.9V1308.7M373,1267.9V1308.7" style="stroke-width:1.2"/>
<use href="#rv" x="291.2" y="1288.6"/><use href="#rv" x="318" y="1288.6"/><use href="#rv" x="345.6" y="1288.6"/><use href="#rv" x="373" y="1288.6"/>
<use href="#d" x="318" y="1267.9"/><use href="#d" x="345.6" y="1267.9"/><use href="#d" x="373" y="1267.9"/><use href="#d" x="318" y="1308.7"/><use href="#d" x="345.6" y="1308.7"/><use href="#d" x="373" y="1308.7"/><use href="#o" x="403.7" y="1267.9"/><use href="#o" x="403.7" y="1308.7"/>
</g>
</g>
</svg>
